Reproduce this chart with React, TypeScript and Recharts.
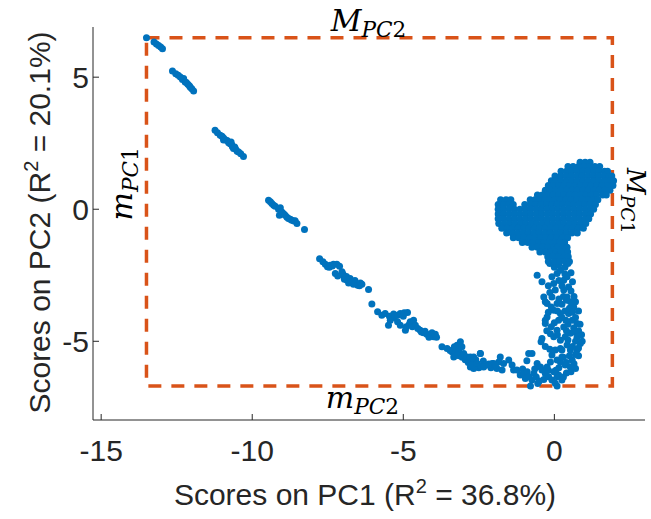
import React from 'react';
import { ScatterChart, Scatter, XAxis, YAxis, ReferenceArea } from 'recharts';

// ---- tick labels / axis ranges ----
const xTicks = [-15, -10, -5, 0];
const yTicks = [-5, 0, 5];
const xDomain: [number, number] = [-15.27, 3.0];
const yDomain: [number, number] = [-7.98, 6.9];

// bounding box (min / max of PC1 and PC2 scores)
const mPC1 = -13.5;
const MPC1 = 1.92;
const mPC2 = -6.69;
const MPC2 = 6.49;

// ---- scores: [PC1, PC2] ----
const upperStreak: [number, number][] = [
  [-13.5, 6.49], [-13.25, 6.33], [-13.17, 6.26], [-13.1, 6.2], [-13.03, 6.14], [-12.97, 6.08],
  [-12.64, 5.23], [-12.53, 5.13], [-12.45, 5.07], [-12.38, 5.01], [-12.31, 4.91], [-12.27, 4.95],
  [-12.22, 4.82], [-12.18, 4.8], [-12.13, 4.73], [-12.08, 4.68], [-12.05, 4.62], [-12.0, 4.56], [-11.94, 4.48],
  [-11.23, 2.99], [-11.15, 2.9], [-11.06, 2.8], [-11.0, 2.76], [-10.95, 2.7], [-10.95, 2.62], [-10.89, 2.63],
  [-10.83, 2.6], [-10.78, 2.52], [-10.73, 2.48], [-10.7, 2.55], [-10.68, 2.45], [-10.66, 2.38], [-10.62, 2.3],
  [-10.58, 2.36], [-10.55, 2.28], [-10.5, 2.2], [-10.45, 2.17], [-10.38, 2.1], [-10.29, 2.0],
  [-9.46, 0.34], [-9.4, 0.28], [-9.35, 0.22], [-9.29, 0.15], [-9.24, 0.11], [-9.13, 0.0], [-9.07, 0.06],
  [-9.1, -0.23], [-9.02, -0.1], [-8.96, -0.17], [-8.91, -0.23], [-8.85, -0.3], [-8.8, -0.35], [-8.74, -0.38],
  [-8.69, -0.42], [-8.62, -0.45], [-8.58, -0.44], [-8.52, -0.54], [-8.27, -0.77],
];

const middleStreak: [number, number][] = [
  [-7.77, -1.87], [-7.66, -1.99], [-7.58, -2.08], [-7.51, -2.18], [-7.45, -2.2], [-7.42, -2.12], [-7.35, -2.15],
  [-7.31, -2.08], [-7.2, -2.08], [-7.11, -2.16], [-7.25, -2.43], [-7.17, -2.53], [-7.03, -2.37], [-7.0, -2.45],
  [-6.98, -2.5], [-6.95, -2.65], [-6.92, -2.62], [-6.88, -2.55], [-6.86, -2.69], [-6.81, -2.79], [-6.76, -2.62],
  [-6.7, -2.75], [-6.65, -2.84], [-6.6, -2.7], [-6.59, -2.79], [-6.51, -2.88], [-6.45, -2.9], [-6.42, -2.79],
  [-6.37, -2.84], [-6.15, -3.04],
  [-6.04, -3.59], [-5.85, -3.88], [-5.71, -4.01], [-5.6, -3.95], [-5.46, -4.05], [-5.32, -3.97], [-5.3, -4.1],
  [-5.19, -4.01], [-5.1, -3.95], [-5.0, -4.05], [-4.97, -3.92], [-4.86, -3.91], [-5.43, -4.2], [-5.49, -4.39],
  [-5.19, -4.26], [-5.1, -4.39], [-4.93, -4.58], [-4.9, -4.45], [-4.8, -4.35], [-4.77, -4.26], [-4.7, -4.45],
  [-4.66, -4.2], [-4.6, -4.39], [-4.52, -4.52], [-4.44, -4.58], [-4.4, -4.65], [-4.33, -4.68], [-4.28, -4.62],
  [-4.22, -4.73], [-4.15, -4.85], [-4.11, -4.77], [-4.0, -4.83], [-4.05, -4.68], [-3.94, -4.73], [-3.9, -4.85],
  [-3.72, -5.21], [-3.55, -5.27], [-3.45, -5.35], [-3.39, -5.4], [-3.31, -5.21], [-3.28, -5.45], [-3.22, -5.15],
  [-3.17, -5.35], [-3.15, -5.55], [-3.11, -5.02], [-3.06, -5.21], [-3.33, -5.59], [-3.22, -5.52], [-3.05, -5.6],
  [-3.0, -5.46], [-2.95, -5.7], [-2.89, -5.59], [-2.85, -5.8], [-2.78, -5.65], [-2.73, -5.78], [-2.67, -5.59],
  [-2.6, -5.7], [-2.5, -6.0], [-2.45, -5.46], [-2.56, -5.84], [-2.78, -5.97], [-2.67, -6.03], [-2.45, -5.94],
  [-2.35, -5.75], [-2.28, -5.9], [-2.17, -5.86], [-2.1, -6.0], [-2.01, -5.84], [-1.9, -6.03], [-1.84, -5.78],
];

const bottomArc: [number, number][] = [
  [-2.78, -5.59], [-2.67, -5.71], [-2.73, -5.9], [-2.56, -5.84], [-2.45, -5.46], [-2.34, -5.97], [-2.17, -5.9],
  [-2.06, -5.84], [-1.95, -5.9], [-1.79, -5.59], [-1.73, -6.09], [-1.68, -5.84], [-1.51, -5.71], [-1.4, -5.9],
  [-1.35, -6.09], [-1.24, -6.09], [-1.13, -6.28], [-1.05, -6.05], [-1.02, -6.22], [-0.96, -6.41], [-0.9, -6.15],
  [-0.85, -6.34], [-0.74, -6.47], [-0.68, -6.22], [-0.65, -6.05], [-0.6, -6.35], [-0.55, -6.6], [-0.5, -6.5],
  [-0.85, -5.46], [-0.74, -5.46], [-0.91, -5.74], [-0.57, -5.84], [-0.46, -5.97], [-0.41, -6.09], [-0.35, -6.45],
  [-0.3, -6.22], [-0.2, -6.1], [-0.19, -6.34], [-0.08, -6.47], [0.03, -6.59], [0.09, -6.34], [-0.24, -5.97],
  [-0.79, -6.69], [0.09, -6.69], [-0.02, -6.15], [0.14, -6.28], [0.25, -6.47],
];

const rightBranch: [number, number][] = [
  [0.2, -5.78], [0.03, -5.33], [-0.13, -5.78], [-0.08, -5.52], [0.09, -5.71], [0.25, -5.59], [0.36, -5.9],
  [0.53, -5.97], [0.7, -6.03], [0.59, -5.71], [0.75, -5.33], [0.86, -5.08], [0.53, -5.33], [0.42, -5.14],
  [0.2, -5.27], [0.36, -4.83], [0.53, -4.7], [0.64, -4.5], [0.75, -4.33], [0.59, -4.2], [0.47, -3.95],
  [0.64, -3.7], [0.53, -3.5], [0.42, -3.32], [0.31, -3.06], [0.47, -2.94], [0.31, -2.69], [0.42, -2.56],
  [0.09, -2.43], [0.2, -2.31], [-0.08, -2.56], [-0.02, -2.81], [0.03, -3.06], [-0.08, -3.32], [0.09, -3.57],
  [-0.02, -3.82], [0.2, -3.95], [0.14, -4.2], [0.31, -4.46], [0.09, -4.58], [-0.02, -4.83], [-0.13, -4.71],
  [0.2, -4.96], [0.25, -5.33], [-0.24, -4.08], [-0.3, -4.2], [-0.3, -4.33], [-0.35, -3.32], [-0.24, -3.57],
  [-0.41, -4.89], [-0.44, -5.02], [-0.57, -2.5], [-0.41, -2.75],
  [0.55, -3.1], [0.4, -3.45], [0.25, -3.6], [0.5, -3.75], [0.35, -3.85], [0.6, -3.9], [0.7, -4.1], [0.45, -4.35],
  [0.4, -4.6], [0.65, -4.65], [0.75, -4.85], [0.45, -4.95], [0.7, -5.0], [0.6, -5.2], [0.5, -5.55], [0.3, -5.6],
  [0.15, -2.7], [0.25, -2.9], [0.6, -2.75], [0.55, -2.4], [0.35, -2.2], [0.0, -2.2], [0.15, -2.1], [0.45, -2.05],
  [-0.15, -2.05], [0.4, -6.2], [0.55, -6.15], [0.05, -6.1], [0.3, -6.35], [0.8, -4.6], [0.8, -5.25],
  [-0.2, -2.9], [-0.15, -3.15], [-0.3, -3.5], [-0.1, -3.7], [-0.2, -3.9], [0.0, -4.3], [-0.1, -4.45],
  [-0.25, -4.6], [0.1, -4.75], [-0.3, -5.2], [-0.15, -5.3], [0.35, -2.45], [0.65, -3.3], [0.7, -3.5],
  [0.8, -3.85], [0.85, -4.35], [0.9, -4.75], [0.92, -5.0], [0.8, -5.55], [0.65, -5.85], [0.7, -5.5],
  [0.38, -4.2], [0.25, -4.1], [0.3, -3.3], [0.15, -3.4], [0.1, -3.85], [0.4, -5.8], [0.15, -6.0], [0.55, -6.0],
];

// dense cluster, read row by row: [PC2, PC1 values]
const clusterRows: [number, number[]][] = [
  [1.78, [0.85, 1.02, 1.18]],
  [1.62, [0.45, 0.62, 0.8, 0.98, 1.16, 1.34, 1.5]],
  [1.44, [0.22, 0.4, 0.58, 0.76, 0.94, 1.12, 1.3, 1.48, 1.66, 1.76]],
  [1.26, [0.02, 0.2, 0.38, 0.56, 0.74, 0.92, 1.1, 1.28, 1.46, 1.64, 1.82, 1.9]],
  [1.08, [-0.1, 0.04, 0.22, 0.4, 0.58, 0.76, 0.94, 1.12, 1.3, 1.48, 1.66, 1.84, 1.96]],
  [0.9, [-0.2, -0.04, 0.14, 0.32, 0.5, 0.68, 0.86, 1.04, 1.22, 1.4, 1.58, 1.76, 1.94]],
  [0.72, [-0.3, -0.14, 0.04, 0.22, 0.4, 0.58, 0.76, 0.94, 1.12, 1.3, 1.48, 1.66, 1.84]],
  [0.54, [-0.56, -0.4, -0.22, -0.04, 0.14, 0.32, 0.5, 0.68, 0.86, 1.04, 1.22, 1.4, 1.6, 1.72]],
  [0.36, [-1.78, -1.6, -1.44, -0.8, -0.64, -0.48, -0.32, -0.16, 0.02, 0.2, 0.38, 0.56, 0.74, 0.92, 1.1, 1.28, 1.44]],
  [0.18, [-1.86, -1.68, -1.5, -1.36, -0.98, -0.8, -0.62, -0.44, -0.26, -0.08, 0.1, 0.28, 0.46, 0.64, 0.82, 1.0, 1.18, 1.36]],
  [0.0, [-1.86, -1.68, -1.5, -1.32, -1.14, -0.96, -0.78, -0.6, -0.42, -0.24, -0.06, 0.12, 0.3, 0.48, 0.66, 0.84, 1.02, 1.2, 1.3]],
  [-0.18, [-1.86, -1.68, -1.5, -1.32, -1.14, -0.96, -0.78, -0.6, -0.42, -0.24, -0.06, 0.12, 0.3, 0.48, 0.66, 0.84, 1.02, 1.2]],
  [-0.36, [-1.86, -1.68, -1.5, -1.32, -1.14, -0.96, -0.78, -0.6, -0.42, -0.24, -0.06, 0.12, 0.3, 0.48, 0.66, 0.84, 1.02, 1.14]],
  [-0.54, [-1.84, -1.66, -1.48, -1.3, -1.12, -0.94, -0.76, -0.58, -0.4, -0.22, -0.04, 0.14, 0.32, 0.5, 0.68, 0.86, 1.04]],
  [-0.72, [-1.74, -1.56, -1.38, -1.2, -1.02, -0.84, -0.66, -0.48, -0.3, -0.12, 0.06, 0.24, 0.42, 0.6, 0.78, 0.96]],
  [-0.9, [-1.58, -1.4, -1.22, -1.04, -0.86, -0.68, -0.5, -0.32, -0.14, 0.04, 0.22, 0.4, 0.58, 0.76]],
  [-1.08, [-1.36, -1.18, -1.0, -0.82, -0.64, -0.46, -0.28, -0.1, 0.08, 0.26, 0.44]],
  [-1.26, [-1.06, -0.88, -0.7, -0.52, -0.34, -0.16, 0.02, 0.18, 0.34]],
  [-1.44, [-0.74, -0.56, -0.38, -0.2, -0.02, 0.1, 0.28, 0.42]],
  [-1.62, [-0.48, -0.3, -0.12, 0.06, 0.2, 0.34, 0.44]],
  [-1.8, [-0.22, -0.04, 0.14, 0.32, 0.46]],
  [-1.98, [-0.2, 0.0, 0.18, 0.36, 0.5]],
];

const BLUE = '#0072BD';
const ORANGE = '#D95319';
const AXIS = '#262626';
const SANS = '"Liberation Sans", Arial, Helvetica, sans-serif';
const SERIF = '"DejaVu Serif", "Liberation Serif", serif';

const points = [
  ...upperStreak,
  ...middleStreak,
  ...bottomArc,
  ...rightBranch,
  ...clusterRows.flatMap(([y, xs]) => xs.map((x) => [x, y] as [number, number])),
].map(([x, y]) => ({ x, y }));

const XTick = (props: any) => {
  const { x, y, payload } = props;
  return (
    <g>
      <line x1={x} x2={x} y1={y} y2={y - 6} stroke={AXIS} strokeWidth={1} />
      <text x={x} y={y + 41} textAnchor="middle" fontFamily={SANS} fontSize={30} fill={AXIS}>
        {payload.value}
      </text>
    </g>
  );
};

const YTick = (props: any) => {
  const { x, y, payload } = props;
  return (
    <g>
      <line x1={x} x2={x + 6} y1={y} y2={y} stroke={AXIS} strokeWidth={1} />
      <text x={x - 4} y={y + 10.5} textAnchor="end" fontFamily={SANS} fontSize={30} fill={AXIS}>
        {payload.value}
      </text>
    </g>
  );
};

const XLabel = (props: any) => {
  const vb = props.viewBox || { x: 93, y: 420, width: 552, height: 60 };
  const cx = vb.x + vb.width / 2 - 4;
  return (
    <text x={cx} y={vb.y + 85} textAnchor="middle" fontFamily={SANS} fontSize={30} fill={AXIS}>
      Scores on PC1 (R<tspan fontSize={20} dy={-12}>2</tspan>
      <tspan dy={12}> = 36.8%)</tspan>
    </text>
  );
};

const YLabel = (props: any) => {
  const vb = props.viewBox || { x: 0, y: 27, width: 93, height: 393 };
  const cy = vb.y + vb.height / 2 - 1;
  return (
    <text
      transform={`translate(50, ${cy}) rotate(-90)`}
      textAnchor="middle"
      fontFamily={SANS}
      fontSize={30}
      fill={AXIS}
    >
      Scores on PC2 (R<tspan fontSize={20} dy={-12}>2</tspan>
      <tspan dy={12}> = 20.1%)</tspan>
    </text>
  );
};

const MathLabel = ({ base, sub, x, y, rotate, size = 30 }: any) => (
  <text
    transform={`translate(${x}, ${y}) rotate(${rotate})`}
    textAnchor="middle"
    fontFamily={SERIF}
    fill="#000"
  >
    <tspan fontSize={size} fontStyle="italic">{base}</tspan>
    <tspan fontSize={size * 0.72} fontStyle="italic" dy={6}>{sub.slice(0, 2)}</tspan>
    <tspan fontSize={size * 0.72}>{sub.slice(2)}</tspan>
  </text>
);

const BoxLabels = (props: any) => {
  const vb = props.viewBox || { x: 146, y: 37, width: 466, height: 349 };
  const cx = vb.x + vb.width * 0.47;
  return (
    <g>
      <MathLabel base="M" sub="PC2" x={cx + 3} y={vb.y - 7} rotate={0} />
      <MathLabel base="m" sub="PC2" x={cx - 3} y={vb.y + vb.height + 22} rotate={0} />
      <MathLabel base="m" sub="PC1" x={vb.x - 14} y={vb.y + 146} rotate={-90} />
      <MathLabel base="M" sub="PC1" x={vb.x + vb.width + 15} y={vb.y + 163} rotate={90} size={26} />
    </g>
  );
};

const Dot = (p: any) => <circle cx={p.cx} cy={p.cy} r={3.5} fill={BLUE} />;

export default function App() {
  return (
    <div style={{ position: 'absolute', left: 0, top: 0, width: 651, height: 519, background: '#fff' }}>
      <ScatterChart width={651} height={519} margin={{ top: 27, right: 6, bottom: 39, left: 0 }}>
        <XAxis
          type="number"
          dataKey="x"
          domain={xDomain}
          ticks={xTicks}
          allowDataOverflow
          height={60}
          tickSize={0}
          tickMargin={0}
          tickLine={false}
          axisLine={{ stroke: AXIS, strokeWidth: 1 }}
          tick={<XTick />}
          interval={0}
          label={(p: any) => <XLabel {...p} />}
        />
        <YAxis
          type="number"
          dataKey="y"
          domain={yDomain}
          ticks={yTicks}
          allowDataOverflow
          width={93}
          tickSize={0}
          tickMargin={0}
          tickLine={false}
          axisLine={{ stroke: AXIS, strokeWidth: 1 }}
          tick={<YTick />}
          interval={0}
          label={(p: any) => <YLabel {...p} />}
        />
        <Scatter data={points} shape={<Dot />} isAnimationActive={false} />
        <ReferenceArea
          x1={mPC1}
          x2={MPC1}
          y1={mPC2}
          y2={MPC2}
          fill="none"
          fillOpacity={0}
          stroke={ORANGE}
          strokeWidth={3.5}
          strokeDasharray="13 10"
          ifOverflow="visible"
          label={(p: any) => <BoxLabels {...p} />}
        />
      </ScatterChart>
    </div>
  );
}
